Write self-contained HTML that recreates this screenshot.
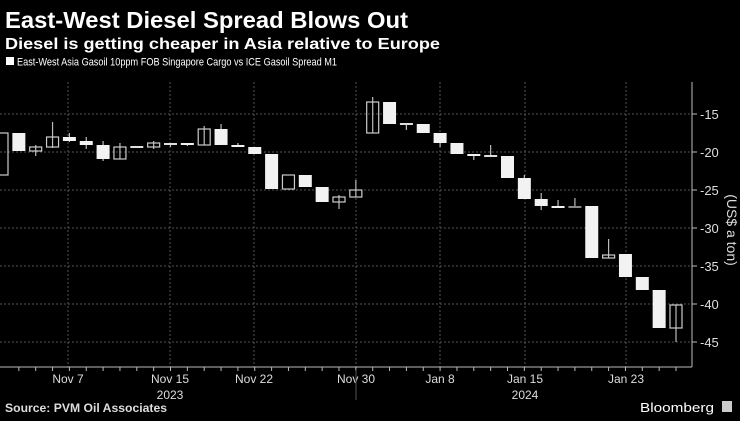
<!DOCTYPE html>
<html><head><meta charset="utf-8"><style>
body{margin:0;background:#000;width:740px;height:416px;overflow:hidden;font-family:"Liberation Sans",sans-serif;color:#fff}
</style></head><body>
<svg id="s" width="740" height="416" xmlns="http://www.w3.org/2000/svg" font-family="Liberation Sans, sans-serif">
<rect width="740" height="416" fill="#000"/>
<text x="5" y="28" font-size="23" font-weight="bold" fill="#fff" textLength="403" lengthAdjust="spacingAndGlyphs">East-West Diesel Spread Blows Out</text>
<text x="5" y="49" font-size="16" font-weight="bold" fill="#fff" textLength="435" lengthAdjust="spacingAndGlyphs">Diesel is getting cheaper in Asia relative to Europe</text>
<rect x="6" y="57" width="8" height="8" fill="#fff"/>
<text x="17" y="65.5" font-size="11" fill="#fff" textLength="320" lengthAdjust="spacingAndGlyphs">East-West Asia Gasoil 10ppm FOB Singapore Cargo vs ICE Gasoil Spread M1</text>
<g id="grid" stroke="#555" stroke-width="1" stroke-dasharray="2,2"></g>
<g id="c"></g>
<line x1="0" y1="367" x2="692" y2="367" stroke="#bbb"/>
<line x1="692" y1="82" x2="692" y2="367" stroke="#bbb"/>
<g id="ax" fill="#ddd" font-size="13"></g>
<text transform="translate(727,230) rotate(90)" text-anchor="middle" font-size="14" fill="#ddd">(US$ a ton)</text>
<line x1="356" y1="370" x2="356" y2="400" stroke="#555"/>
<text x="5" y="412" font-size="11.5" font-weight="bold" fill="#ddd" textLength="162" lengthAdjust="spacingAndGlyphs">Source: PVM Oil Associates</text>
<text x="640" y="412" font-size="13" fill="#fff" textLength="74" lengthAdjust="spacingAndGlyphs">Bloomberg</text>
<rect x="722" y="401" width="10" height="11" fill="#ccc"/>
</svg>
<script>
const ns="http://www.w3.org/2000/svg";
function el(p,t,a,txt){const e=document.createElementNS(ns,t);for(const k in a)e.setAttribute(k,a[k]);if(txt!==undefined)e.textContent=txt;document.getElementById(p).appendChild(e);}
[114,152,190,228,266,304,342].forEach((y,i)=>{el('grid','line',{x1:0,y1:y,x2:692,y2:y});
el('ax','line',{x1:692,y1:y,x2:697,y2:y,stroke:'#bbb'});
el('ax','text',{x:700,y:y+5},'-'+(15+5*i));});
[68,170,254,356,440,525,626].forEach(x=>el('grid','line',{x1:x,y1:82,x2:x,y2:367}));
const labs=[[68,'Nov 7'],[170,'Nov 15'],[254,'Nov 22'],[356,'Nov 30'],[440,'Jan 8'],[525,'Jan 15'],[626,'Jan 23']];
labs.forEach(([x,t])=>el('ax','text',{x:x,y:383,'text-anchor':'middle','font-size':12},t));
el('ax','text',{x:170,y:399,'text-anchor':'middle','font-size':12},'2023');
el('ax','text',{x:525,y:399,'text-anchor':'middle','font-size':12},'2024');
const C=[[133,175,0],[133,151,1],[147,151,0,145,156],[137,147,0,122,148],[137,141,1,133,142],[141,145,1,137,149],[145,159,1,141,161],[147,159,0,143,159],[146,148,2],[143,147,0,141,149],[143,143,2,143,147],[143,145,1,143,146],[129,145,0,126,145],[129,145,1,124,145],[145,147,1,143,147],[147,154,1],[154,189,1],[175,189,0],[175,187,1],[187,202,1],[197,202,0,195,209],[190,197,0,180,197],[102,133,0,97,133],[102,124,1],[123,125,2,123,130],[124,133,1],[133,143,1,133,147],[143,154,1],[154,156,1,154,160],[155,157,2,145,157],[156,178,1],[178,199,1,175,199],[199,206,1,193,210],[206,208,1,200,208],[206,208,3,198,208],[206,258,1],[255,258,0,239,258],[254,277,1],[277,290,1],[290,328,1],[305,328,0,305,342]];
C.forEach((c,i)=>{const x=2+i*16.85;
if(c[3]!==undefined)el('c','line',{x1:x,y1:c[3],x2:x,y2:c[4],stroke:'#bbb','stroke-width':1.2});
if(i>0)el('ax','line',{x1:x,y1:367,x2:x,y2:371,stroke:'#bbb'});
const w=13;
if(c[2]==1)el('c','rect',{x:x-w/2,y:c[0],width:w,height:Math.max(c[1]-c[0],2),fill:'#f2f2f2'});
else if(c[2]==2)el('c','rect',{x:x-w/2,y:c[0],width:w,height:2,fill:'#ddd'});
else if(c[2]==3)el('c','rect',{x:x-w/2,y:c[0],width:w,height:2,fill:'#888'});
else el('c','rect',{x:x-w/2+0.5,y:c[0],width:w-1,height:c[1]-c[0],fill:'none',stroke:'#ccc','stroke-width':1.2});
});
</script>
</body></html>
